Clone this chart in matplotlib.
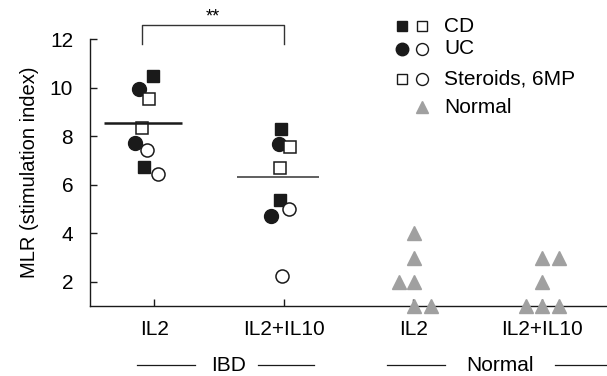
import numpy as np
import matplotlib
matplotlib.use("Agg")
import matplotlib.pyplot as plt

plt.rcParams['font.family'] = ['Liberation Sans', 'DejaVu Sans']

"""
0. data read off the figure
"""
tick_pos = [1, 2, 3, 4]
tick_labels = ['IL2', 'IL2+IL10', 'IL2', 'IL2+IL10']

# IBD groups  (x position, value)
cd_fill_x = [0.99, 0.92, 1.98, 1.97]
cd_fill_y = [10.5, 6.72, 8.28, 5.35]
uc_fill_x = [0.88, 0.85, 1.96, 1.90]
uc_fill_y = [9.96, 7.71, 7.66, 4.70]
ster_sq_x = [0.96, 0.90, 2.05, 1.97]
ster_sq_y = [9.52, 8.33, 7.55, 6.68]
ster_ci_x = [0.94, 1.03, 2.04, 1.99]
ster_ci_y = [7.45, 6.45, 4.98, 2.25]

mean_x = [0.91, 1.955]
mean_y = [8.54, 6.30]

# Normal groups
norm_x = [3.01, 3.01, 2.89, 3.01, 3.01, 3.14,
          4.00, 4.13, 4.00, 3.87, 4.00, 4.13]
norm_y = [4, 3, 2, 2, 1, 1,
          3, 3, 2, 1, 1, 1]

grey = '#a0a0a0'
ink = '#1a1a1a'
fs = 15

"""
1. plot
"""
fig = plt.figure(figsize=(6.07, 3.76), dpi=100)
ax = fig.add_axes([0.148, 0.186, 0.852, 0.71])

ax.plot(cd_fill_x, cd_fill_y, 's', ms=8.4, color=ink, mec=ink, ls='none', clip_on=False)
ax.plot(uc_fill_x, uc_fill_y, 'o', ms=10, color=ink, mec=ink, ls='none', clip_on=False)
ax.plot(ster_sq_x, ster_sq_y, 's', ms=8.2, mfc='white', mec=ink, mew=1.1, ls='none', clip_on=False)
ax.plot(ster_ci_x, ster_ci_y, 'o', ms=9.4, mfc='white', mec=ink, mew=1.1, ls='none', clip_on=False)
ax.plot(norm_x, norm_y, '^', ms=9.5, color=grey, mec=grey, ls='none', clip_on=False, zorder=3)

# mean bars
ax.hlines(mean_y[0], mean_x[0] - 0.30, mean_x[0] + 0.30, color=ink, lw=1.8)
ax.hlines(mean_y[1], mean_x[1] - 0.315, mean_x[1] + 0.315, color='#444444', lw=1.2)

# significance bracket
ax.plot([0.907, 0.907, 2.0, 2.0], [11.8, 12.57, 12.57, 11.8], color='#333333', lw=1, clip_on=False)
ax.text(1.45, 12.55, '**', ha='center', va='bottom', fontsize=13)

ax.set_xlim(0.5, 4.5)
ax.set_ylim(1, 12)
ax.set_yticks([2, 4, 6, 8, 10, 12])
ax.set_xticks(tick_pos)
ax.set_xticklabels(tick_labels)
ax.tick_params(direction='in', length=5, width=1, labelsize=fs, color=ink)
ax.tick_params(axis='y', pad=12)
ax.tick_params(axis='x', pad=10)
ax.set_ylabel('MLR (stimulation index)', fontsize=14.5, labelpad=8)

ax.spines['top'].set_visible(False)
ax.spines['right'].set_visible(False)
for s in ['left', 'bottom']:
    ax.spines[s].set_linewidth(1)
    ax.spines[s].set_color(ink)

# group labels under the axis
trans = ax.get_xaxis_transform()
yg = -0.222
ax.text(1.574, yg, 'IBD', transform=trans, ha='center', va='center', fontsize=fs)
ax.text(3.674, yg, 'Normal', transform=trans, ha='center', va='center', fontsize=fs)
for x0, x1 in [(0.865, 1.316), (1.797, 2.233), (2.80, 3.25), (4.10, 4.50)]:
    ax.plot([x0, x1], [yg, yg], transform=trans, color=ink, lw=0.9, clip_on=False)

# legend drawn by hand
ta = ax.transAxes
rows = [
    (1.049, ('s', ink, 6.7), ('s', 'white', 6.7), 'CD'),
    (0.963, ('o', ink, 9.0), ('o', 'white', 8.6), 'UC'),
    (0.850, ('s', 'white', 6.7), ('o', 'white', 8.6), 'Steroids, 6MP'),
    (0.745, None, ('^', grey, 8.0), 'Normal'),
]
for yy, m1, m2, lab in rows:
    for xx, m in [(0.603, m1), (0.643, m2)]:
        if m is None:
            continue
        edge = grey if m[1] == grey else ink
        ax.plot([xx], [yy], m[0], ms=m[2], mfc=m[1], mec=edge, mew=1.0,
                transform=ta, clip_on=False)
    ax.text(0.685, yy, lab, transform=ta, ha='left', va='center', fontsize=fs)

fig.savefig('out.png', dpi=100)
